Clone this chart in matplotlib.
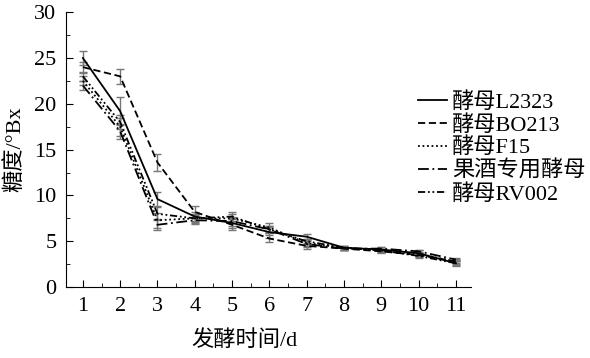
import numpy as np
import matplotlib.pyplot as plt
from matplotlib.ticker import MultipleLocator

plt.rcParams['font.family'] = ['Liberation Serif', 'Noto Sans CJK SC']

days = np.arange(1, 12)
labels = ['酵母L2323', '酵母BO213', '酵母F15', '果酒专用酵母', '酵母RV002']
l2323 = [25.0, 19.2, 9.6, 7.7, 7.0, 6.0, 5.5, 4.3, 4.1, 3.7, 2.6]
bo213 = [24.0, 23.0, 13.6, 8.2, 6.8, 5.3, 4.5, 4.2, 3.9, 3.5, 2.8]
f15 = [22.5, 17.5, 7.3, 7.5, 7.5, 6.5, 4.8, 4.3, 4.0, 3.6, 2.8]
fruit = [22.0, 17.0, 6.8, 7.3, 7.2, 6.3, 4.7, 4.2, 4.2, 3.9, 3.0]
rv002 = [23.0, 18.0, 8.0, 7.5, 7.7, 6.3, 5.0, 4.3, 4.0, 3.4, 2.6]
err_l2323 = [0.8, 1.5, 0.8, 0.5, 0.5, 0.6, 0.3, 0.2, 0.3, 0.3, 0.3]
err_bo213 = [0.6, 0.8, 0.9, 0.6, 0.6, 0.4, 0.3, 0.2, 0.2, 0.2, 0.3]
err_f15 = [0.5, 1.0, 0.8, 0.5, 0.5, 0.5, 0.3, 0.2, 0.2, 0.2, 0.2]
err_fruit = [0.5, 0.8, 0.6, 0.4, 0.5, 0.4, 0.3, 0.2, 0.2, 0.2, 0.2]
err_rv002 = [0.5, 0.8, 0.7, 0.4, 0.5, 0.4, 0.3, 0.2, 0.2, 0.2, 0.2]

series = [l2323, bo213, f15, fruit, rv002]
errs = [err_l2323, err_bo213, err_f15, err_fruit, err_rv002]
styles = ['-', (0, (4, 2)), (0, (1, 1.5)), (0, (6, 2, 1, 2)), (0, (4, 1.5, 1, 1.5, 1, 1.5))]

fig = plt.figure(figsize=(5.9, 3.58), dpi=100)
ax = fig.add_axes([0.112, 0.198, 0.686, 0.768])

for y, e, ls, lab in zip(series, errs, styles, labels):
    ax.errorbar(days, y, yerr=e, color='black', ecolor='#777777', elinewidth=1.0,
                capsize=3, capthick=1.0, linestyle=ls, linewidth=1.3, label=lab)

ax.set_xlim(0.55, 11.4)
ax.set_ylim(0, 30)
ax.xaxis.set_major_locator(MultipleLocator(1))
ax.xaxis.set_minor_locator(MultipleLocator(0.5))
ax.yaxis.set_major_locator(MultipleLocator(5))
ax.yaxis.set_minor_locator(MultipleLocator(2.5))
ax.tick_params(which='both', direction='in', labelsize=16)
ax.tick_params(which='major', length=5, pad=7)
ax.tick_params(which='minor', length=3)
ax.spines['top'].set_visible(False)
ax.spines['right'].set_visible(False)

ax.set_xlabel('发酵时间/d', fontsize=16)
ax.set_ylabel('糖度/°Bx', fontsize=16)
ax.xaxis.set_label_coords(0.44, -0.155)
ax.yaxis.set_label_coords(-0.10, 0.5)

handles, labs = ax.get_legend_handles_labels()
handles = [h[0] for h in handles]
fig.legend(handles, labs, loc='center left', bbox_to_anchor=(0.708, 0.586),
           frameon=False, fontsize=16, handlelength=1.3, labelspacing=0.1,
           handletextpad=0.25, borderpad=0, borderaxespad=0)

fig.savefig('out.png', dpi=100)
